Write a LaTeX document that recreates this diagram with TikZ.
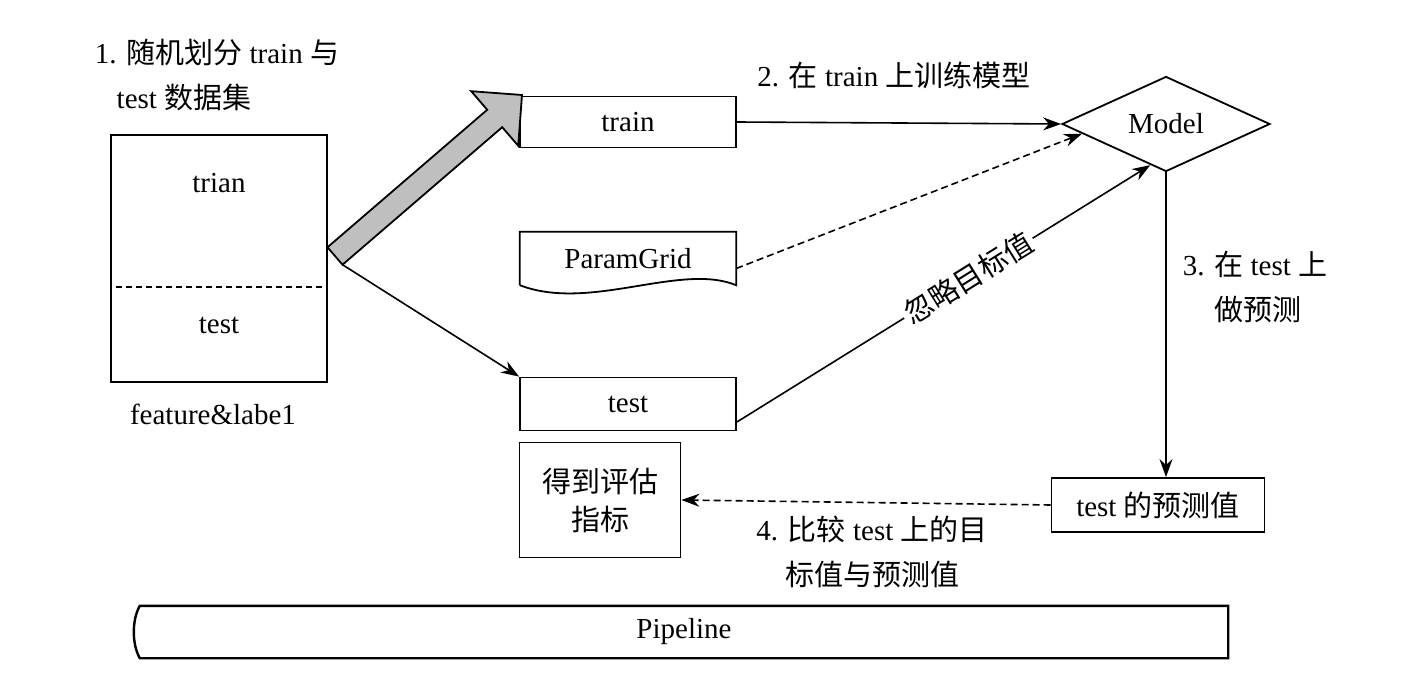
\documentclass[tikz,border=0pt]{standalone}
\usepackage{fontspec}
\setmainfont{Liberation Serif}
\newfontfamily\cjk{Noto Sans CJK SC}
\newcommand{\zh}[1]{{\cjk #1}}
\usetikzlibrary{arrows.meta,positioning,calc,shapes.geometric}
\tikzset{
  box/.style={draw, line width=1.8pt, align=center, inner sep=0pt},
  flow/.style={-{Stealth[length=18pt,width=13pt]}, line width=1.6pt},
  dflow/.style={flow, dash pattern=on 7pt off 4pt},
  note/.style={align=left, inner sep=0pt},
  divider/.style={line width=1.6pt, dash pattern=on 6pt off 4pt}
}

\begin{document}
\begin{tikzpicture}[x=1pt,y=-1pt,font=\fontsize{29}{45}\selectfont]
  \useasboundingbox (0,0) rectangle (1408,684);
  % data set split into two parts
  \node[box, minimum width=216pt, minimum height=247pt] (data) at (219,258.5) {};
  \node (trian) at (219,183) {trian};
  \node (testpart) at (219,325) {test};
  \coordinate (cut) at (0,287);
  \draw[divider] ([xshift=6pt]data.west |- cut) -- ([xshift=-6pt]data.east |- cut);
  \node (datalab) at (213,414) {feature\&labe1};
  \node[note] (step1) at (217,75) {1. \zh{随机划分} train \zh{与}\\\hphantom{1.}test \zh{数据集}};

  \node[box, minimum width=216pt, minimum height=51pt] (train) at (628,122) {train};
  \node[minimum width=216pt, minimum height=53pt, inner sep=0pt] (grid) at (628,258.5) {ParamGrid};
  \draw[line width=1.8pt] (grid.south west) -- (grid.north west) -- (grid.north east) -- (grid.south east)
    .. controls ($(grid.south east)+(-56,-23)$) and ($(grid.south west)+(70,27)$) .. (grid.south west);
  \node[box, minimum width=216pt, minimum height=53pt] (test) at (628,404) {test};
  \node[box, minimum width=161pt, minimum height=115pt, font=\fontsize{29}{38}\selectfont] (eval) at (600,500) {\zh{得到评估}\\\zh{指标}};

  \node[draw, diamond, line width=1.8pt, aspect=2.2, inner sep=0pt, minimum width=208pt, minimum height=95pt] (model) at (1166,124) {Model};
  \node[box, minimum width=213pt, minimum height=54pt] (pred) at (1158,505) {test \zh{的预测值}};

  \node[minimum width=1088pt, minimum height=52pt, inner sep=0pt] (pipe) at (684,632) {Pipeline};
  \draw[line width=2.4pt] (pipe.north east) -- (pipe.north west)
    .. controls +(-8,14) and +(-8,-14) .. (pipe.south west) -- (pipe.south east) -- cycle;

  \node (step2) at (894,75) {2. \zh{在} train \zh{上训练模型}};
  \node[note] (step3) at (1255,287) {3. \zh{在} test \zh{上}\\\hphantom{3. }\zh{做预测}};
  \node[align=center, inner sep=0pt] (step4) at (872,552) {4. \zh{比较} test \zh{上的目}\\\zh{标值与预测值}};

  % big split arrow
  \coordinate (s) at (335,256);
  \coordinate (t) at (522,95);
  \coordinate (h) at ($(t)!36pt!(s)$);
  \coordinate (br) at ($(s)!11.5pt!-90:(t)$);
  \draw[line width=1.8pt, fill=gray!50] ($(s)!11.5pt!90:(t)$) -- ($(h)!11.5pt!90:(t)$) -- ($(h)!36pt!90:(t)$)
    -- (t) -- ($(h)!36pt!-90:(t)$) -- ($(h)!11.5pt!-90:(t)$) -- (br) -- cycle;
  \draw[flow] (br) -- (test.north west);

  \draw[flow] (train.east) -- (model.west);
  \draw[dflow] ([yshift=-10pt]grid.east) -- ($(model.west)!0.2!(model.south)$);
  \draw[flow] ([yshift=-18pt]test.east) -- node[sloped, fill=white, inner sep=3pt, pos=0.56] (ignore) {\zh{忽略目标值}} ($(model.west)!0.85!(model.south)$);
  \draw[flow] (model.south) -- (model.south |- pred.north);
  \draw[dflow] (pred.west) -- (eval.east);
\end{tikzpicture}
\end{document}
